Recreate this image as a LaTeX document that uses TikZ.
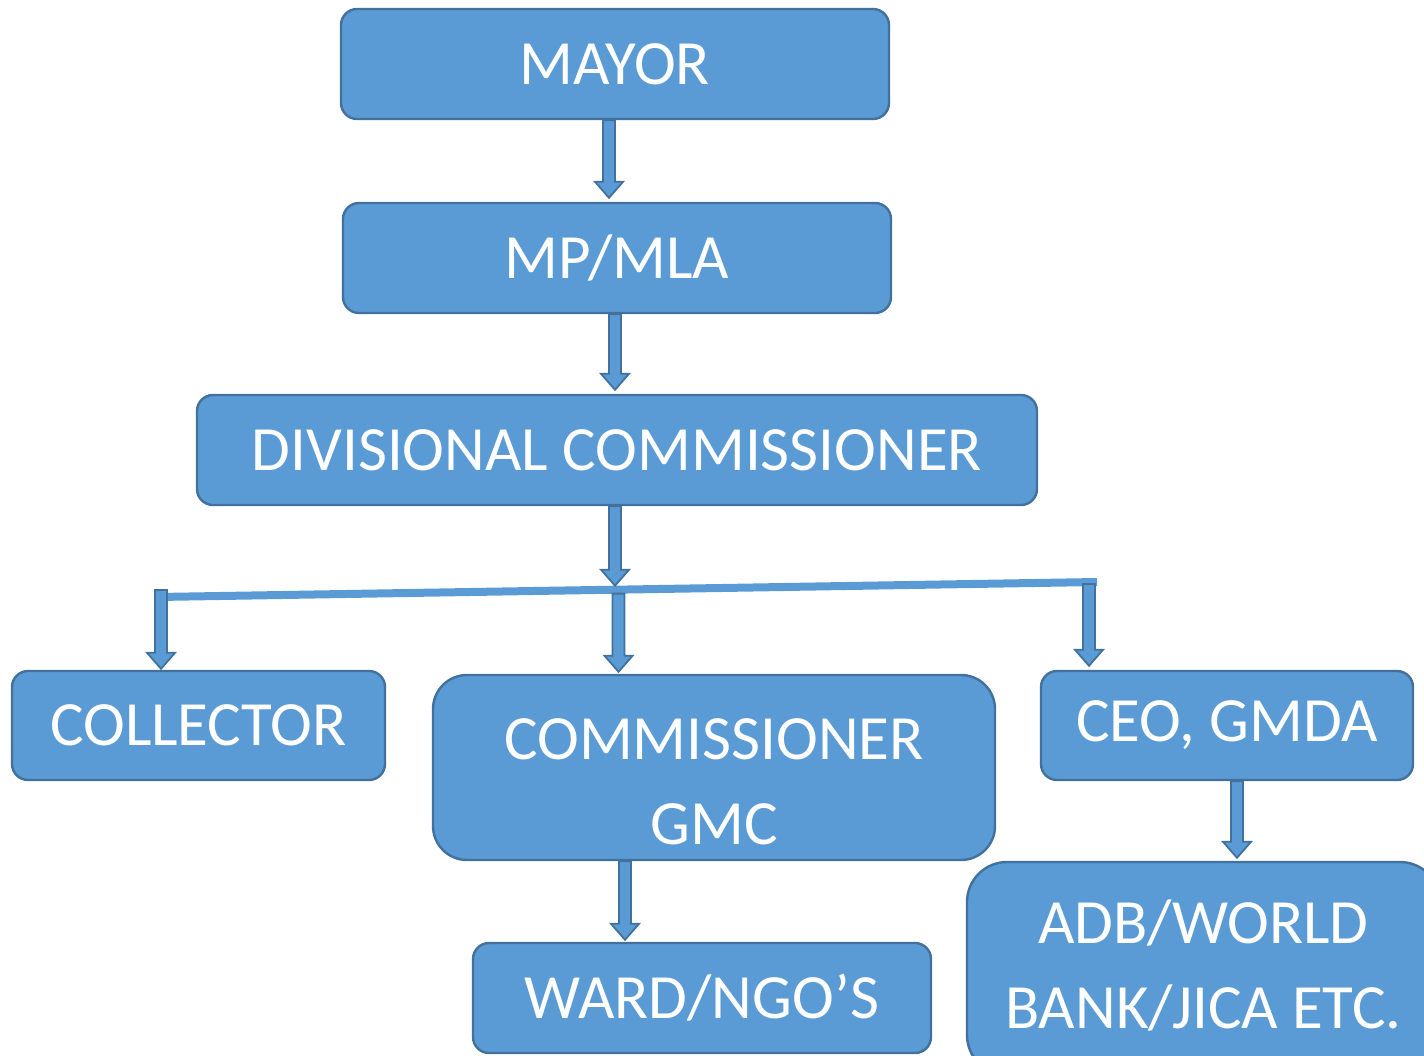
\documentclass[tikz,border=0pt]{standalone}
\usepackage{fontspec}
\setmainfont{Carlito}
\usetikzlibrary{calc}
\definecolor{boxfill}{HTML}{5B9BD5}
\definecolor{boxline}{HTML}{41719C}
\tikzset{
  box/.style={draw=boxline, fill=boxfill, line width=1.2pt, rounded corners=8pt,
    text=white, font=\fontsize{31.5}{42.5}\selectfont, align=center, inner sep=0pt},
  arr/.style={draw=boxline, fill=boxfill, line width=0.9pt, line join=miter},
  hbar/.style={draw=boxfill, line width=4pt}
}
\newcommand\blockarrow[2]{%
  \path[arr] let \p1=#1, \p2=#2 in
    (\x1-3pt,\y1) -- (\x1+3pt,\y1) -- (\x1+3pt,\y2+8pt) -- (\x1+7pt,\y2+8pt)
    -- (\x1,\y2) -- (\x1-7pt,\y2+8pt) -- (\x1-3pt,\y2+8pt) -- cycle;}
\begin{document}
\begin{tikzpicture}[x=0.5pt,y=-0.5pt]
\useasboundingbox (0,0) rectangle (1424,1055);
\node[box, minimum width=274pt, minimum height=55pt] (mayor) at (615,64) {MAYOR};
\node[box, minimum width=274pt, minimum height=55pt] (mp) at (617,258) {MP/MLA};
\node[box, minimum width=420pt, minimum height=55pt] (div) at (617,450) {DIVISIONAL COMMISSIONER};
\node[box, minimum width=186.5pt, minimum height=54.5pt] (col) at (198.5,725.5) {COLLECTOR};
\node[box, minimum width=281pt, minimum height=92.5pt, rounded corners=17pt] (gmc) at (714,767.5) {\raisebox{-15pt}[0pt][0pt]{\begin{tabular}{@{}c@{}}COMMISSIONER\\GMC\end{tabular}}};
\node[box, minimum width=186pt, minimum height=54.5pt] (ceo) at (1227,725.5) {CEO, GMDA};
\node[box, minimum width=229pt, minimum height=55pt] (ward) at (702,998) {WARD/NGO’S};
\node[box, minimum width=236.5pt, minimum height=106.5pt, rounded corners=20pt] (adb) at (1203.5,968.5) {\begin{tabular}{@{}c@{}}ADB/WORLD\\BANK/JICA ETC.\end{tabular}};
\coordinate (hl) at (157,597);
\coordinate (hr) at (1097,582);
\draw[hbar] (hl) -- (hr);
\blockarrow{($(mayor.south)+(-6,0)$)}{($(mp.north)+(-8,-4)$)}
\blockarrow{($(mp.south)+(-2,0)$)}{($(div.north)+(-2,-4)$)}
\blockarrow{($(div.south)+(-2,0)$)}{($(hl)!0.487!(hr)+(0,-4)$)}
\blockarrow{($(hl)+(4,-7)$)}{($(col.north)+(-38,-1)$)}
\blockarrow{($(hl)!0.491!(hr)+(0,4)$)}{($(gmc.north)+(-95,-2)$)}
\blockarrow{($(hr)+(-8,2)$)}{($(ceo.north)+(-138,-4)$)}
\blockarrow{($(gmc.south)+(-89,0)$)}{($(ward.north)+(-77,-2)$)}
\blockarrow{($(ceo.south)+(10,0)$)}{($(adb.north)+(34,-3)$)}
\end{tikzpicture}
\end{document}
